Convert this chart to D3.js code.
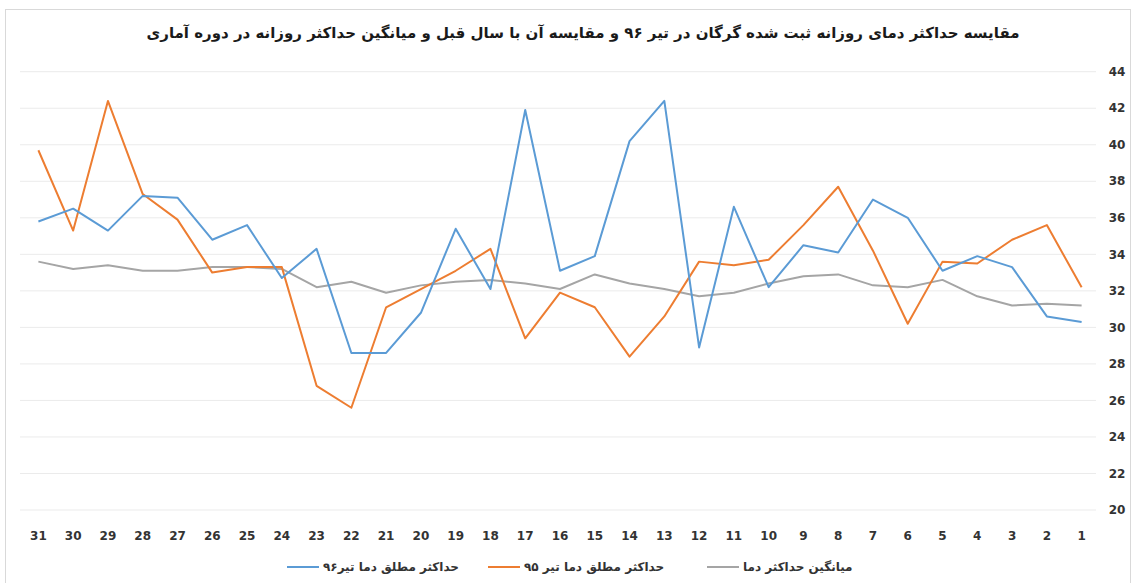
<!DOCTYPE html>
<html>
<head>
<meta charset="utf-8">
<script src="https://cdn.jsdelivr.net/npm/d3@7"></script>
<style>
  body { margin: 0; background: #fff; }
  svg text { font-family: "DejaVu Sans", "Noto Sans", sans-serif; }
</style>
</head>
<body>
<script>
// days shown right-to-left (31 at left, 1 at right)
const days = d3.range(31, 0, -1);
const yTicks = [20, 22, 24, 26, 28, 30, 32, 34, 36, 38, 40, 42, 44];

// values listed in the same order as days (31 -> 1)
const tir96 = [35.8, 36.5, 35.3, 37.2, 37.1, 34.8, 35.6, 32.7, 34.3, 28.6, 28.6,
               30.8, 35.4, 32.1, 41.9, 33.1, 33.9, 40.2, 42.4, 28.9, 36.6,
               32.2, 34.5, 34.1, 37.0, 36.0, 33.1, 33.9, 33.3, 30.6, 30.3];
const tir95 = [39.7, 35.3, 42.4, 37.3, 35.9, 33.0, 33.3, 33.3, 26.8, 25.6, 31.1,
               32.1, 33.1, 34.3, 29.4, 31.9, 31.1, 28.4, 30.6, 33.6, 33.4,
               33.7, 35.6, 37.7, 34.2, 30.2, 33.6, 33.5, 34.8, 35.6, 32.2];
const avgMax = [33.6, 33.2, 33.4, 33.1, 33.1, 33.3, 33.3, 33.2, 32.2, 32.5, 31.9,
                32.3, 32.5, 32.6, 32.4, 32.1, 32.9, 32.4, 32.1, 31.7, 31.9,
                32.4, 32.8, 32.9, 32.3, 32.2, 32.6, 31.7, 31.2, 31.3, 31.2];

const title = "مقایسه حداکثر دمای روزانه ثبت شده گرگان در تیر ۹۶ و مقایسه آن با سال قبل و میانگین حداکثر روزانه در دوره آماری";
const seriesNames = ["حداکثر مطلق دما تیر۹۶", "حداکثر مطلق دما تیر ۹۵", "میانگین حداکثر دما"];
const colors = ["#5b9bd5", "#ed7d31", "#a5a5a5"];

const W = 1134, H = 583;
const svg = d3.select("body").append("svg")
    .attr("width", W)
    .attr("height", H);

// outer frame
svg.append("rect")
    .attr("x", 5.5).attr("y", 9.5)
    .attr("width", 1125).attr("height", 580)
    .attr("fill", "#fff")
    .attr("stroke", "#d9d9d9");

const x = d3.scaleBand().domain(days).range([21, 1099]);
const y = d3.scaleLinear().domain([20, 44]).range([510, 71.7]);
const cx = d => x(d) + x.bandwidth() / 2;

// gridlines
svg.append("g")
    .selectAll("line")
    .data(yTicks)
    .join("line")
    .attr("x1", 20).attr("x2", 1096)
    .attr("y1", d => y(d)).attr("y2", d => y(d))
    .attr("stroke", "#ebebeb")
    .attr("stroke-width", 1);

// y labels on the right
svg.append("g")
    .selectAll("text")
    .data(yTicks)
    .join("text")
    .attr("x", 1117)
    .attr("y", d => y(d))
    .attr("dy", "0.35em")
    .attr("text-anchor", "middle")
    .attr("font-size", 12)
    .attr("font-weight", "bold")
    .attr("fill", "#333")
    .text(d => d);

// x labels
svg.append("g")
    .selectAll("text")
    .data(days)
    .join("text")
    .attr("x", d => cx(d))
    .attr("y", 536)
    .attr("dy", "0.35em")
    .attr("text-anchor", "middle")
    .attr("font-size", 12)
    .attr("font-weight", "bold")
    .attr("fill", "#333")
    .text(d => d);

// lines
const line = d3.line()
    .x((v, i) => cx(days[i]))
    .y(v => y(v));

[avgMax, tir95, tir96].forEach((vals, k) => {
    svg.append("path")
        .datum(vals)
        .attr("d", line)
        .attr("fill", "none")
        .attr("stroke", colors[2 - k])
        .attr("stroke-width", 2)
        .attr("stroke-linejoin", "round");
});

// title
svg.append("text")
    .attr("x", 583)
    .attr("y", 33)
    .attr("dy", "0.35em")
    .attr("text-anchor", "middle")
    .attr("direction", "rtl")
    .attr("font-size", 15)
    .attr("font-weight", "bold")
    .attr("fill", "#1a1a1a")
    .text(title);

// legend: swatch on the left, text to its right
const legendX = [287, 488, 707];
const legend = svg.append("g");
seriesNames.forEach((name, i) => {
    legend.append("line")
        .attr("x1", legendX[i]).attr("x2", legendX[i] + 32)
        .attr("y1", 567).attr("y2", 567)
        .attr("stroke", colors[i])
        .attr("stroke-width", 2);
    legend.append("text")
        .attr("x", legendX[i] + 36)
        .attr("y", 567)
        .attr("dy", "0.35em")
        .attr("text-anchor", "end")
        .attr("direction", "rtl")
        .attr("font-size", 12)
        .attr("font-weight", "bold")
        .attr("fill", "#333")
        .text(name);
});
</script>
</body>
</html>
